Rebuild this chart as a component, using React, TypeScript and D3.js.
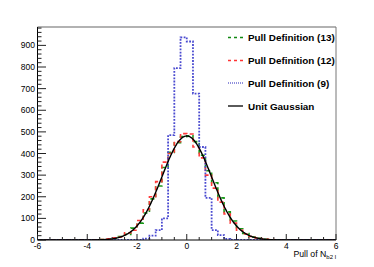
import React from "react";
import * as d3 from "d3";

const xMin = -6;
const xMax = 6;
const yMax = 985;
const binWidth = 0.25;

// Pull Definition (9) – blue dotted, bins starting at -2.0
const blueStart = -2.0;
const blueValues = [1, 6, 20, 46, 100, 485, 795, 937, 918, 677, 430, 195, 46, 23, 5, 1];

// Pull Definition (12) – red dashed, bins starting at -3.75
const redStart = -3.75;
const redValues = [1, 2, 5, 10, 14, 33, 45, 90, 140, 200, 270, 360, 400, 455, 492, 490, 430, 380, 300, 240, 175, 120, 78, 45, 28, 16, 9, 4, 2, 1];

// Pull Definition (13) – green dashed, bins starting at -3.75
const greenStart = -3.75;
const greenValues = [0, 2, 4, 7, 16, 26, 55, 78, 125, 190, 250, 335, 405, 450, 478, 482, 455, 392, 320, 265, 195, 130, 88, 52, 30, 14, 8, 3, 1, 1];

const gaussAmplitude = 481;

const xTicks = [-6, -4, -2, 0, 2, 4, 6];
const yTicks = [0, 100, 200, 300, 400, 500, 600, 700, 800, 900];

const legendLabels = ["Pull Definition (13)", "Pull Definition (12)", "Pull Definition (9)", "Unit Gaussian"];

const W = 374;
const H = 267;
const left = 37.5;
const right = 336;
const top = 27;
const bottom = 240;

export default function App() {
  const x = d3.scaleLinear().domain([xMin, xMax]).range([left, right]);
  const y = d3.scaleLinear().domain([0, yMax]).range([bottom, top]);

  const histPath = (start: number, values: number[]) => {
    const nBins = Math.round((xMax - xMin) / binWidth);
    const full: number[] = new Array(nBins).fill(0);
    const offset = Math.round((start - xMin) / binWidth);
    values.forEach((v, i) => {
      full[offset + i] = v;
    });
    const pts: [number, number][] = [];
    full.forEach((v, i) => {
      const a = xMin + i * binWidth;
      pts.push([a, v]);
      pts.push([a + binWidth, v]);
    });
    return d3
      .line<[number, number]>()
      .x((d) => x(d[0]))
      .y((d) => y(d[1]))(pts) as string;
  };

  const gaussPts = d3.range(xMin, xMax + 0.001, 0.02).map((v) => [v, gaussAmplitude * Math.exp(-v * v / 2)] as [number, number]);
  const gaussPath = d3
    .line<[number, number]>()
    .x((d) => x(d[0]))
    .y((d) => y(d[1]))(gaussPts) as string;

  const yMinor = d3.range(0, yMax, 20);
  const xMinor = d3.range(xMin, xMax + 0.001, 0.5);

  const font = "'Liberation Sans', Arial, Helvetica, sans-serif";

  const legendStyles = [
    { stroke: "#118811", dash: "3 3", w: 1.3 },
    { stroke: "#ff3333", dash: "3 3", w: 1.3 },
    { stroke: "#2222bb", dash: "1 1", w: 1 },
    { stroke: "#000000", dash: "", w: 1.3 },
  ];
  const legendY = [37.5, 60.5, 83, 106];

  return (
    <svg width={W} height={H} style={{ position: "absolute", left: 0, top: 0, background: "#fff" }} fontFamily={font}>
      <defs>
        <clipPath id="frame">
          <rect x={left} y={top} width={right - left} height={bottom - top} />
        </clipPath>
      </defs>
      <rect x={0} y={0} width={W} height={H} fill="#fff" />
      <line x1={left} x2={right} y1={top} y2={top} stroke="#999" strokeWidth={1.5} />
      <line x1={right} x2={right} y1={top} y2={bottom} stroke="#777" strokeWidth={1} />

      <g clipPath="url(#frame)">
        <path d={histPath(greenStart, greenValues)} fill="none" stroke="#1a9a1a" strokeWidth={1.6} strokeDasharray="4 3" />
        <path d={histPath(redStart, redValues)} fill="none" stroke="#ff3b3b" strokeWidth={1.6} strokeDasharray="4 3" />
        <path d={histPath(blueStart, blueValues)} fill="none" stroke="#4a4ad0" strokeWidth={1.8} strokeDasharray="1.8 1.4" />
        <path d={gaussPath} fill="none" stroke="#000" strokeWidth={1.4} />
      </g>

      <line x1={left} x2={left} y1={top} y2={bottom} stroke="#000" strokeWidth={1} />
      {yMinor.map((v) => (
        <line key={"ym" + v} x1={left} x2={left + (v % 100 === 0 ? 8.5 : 4)} y1={y(v)} y2={y(v)} stroke="#222" strokeWidth={1} />
      ))}
      {yTicks.map((v) => (
        <text key={"yt" + v} x={left - 2.5} y={y(v) + 3} fontSize={8.5} textAnchor="end" fill="#000">
          {v}
        </text>
      ))}

      <line x1={left} x2={right} y1={bottom} y2={bottom} stroke="#000" strokeWidth={1} />
      {xMinor.map((v) => (
        <line key={"xm" + v} x1={x(v)} x2={x(v)} y1={bottom} y2={bottom - (Math.abs(v % 2) < 1e-9 ? 6 : 3)} stroke="#222" strokeWidth={1} />
      ))}
      {xTicks.map((v) => (
        <text key={"xt" + v} x={x(v)} y={249} fontSize={8.5} textAnchor="middle" fill="#000">
          {v}
        </text>
      ))}
      <text x={right} y={257} fontSize={8.7} textAnchor="end" fill="#000">
        Pull of N<tspan fontSize={6} dy={2}>b2 l</tspan>
      </text>

      {legendLabels.map((lab, i) => (
        <g key={lab}>
          <line x1={228} x2={243} y1={legendY[i]} y2={legendY[i]} stroke={legendStyles[i].stroke} strokeWidth={legendStyles[i].w} strokeDasharray={legendStyles[i].dash} />
          <text x={248} y={legendY[i] + 3.5} fontSize={9.9} fontWeight="bold" fill="#000">
            {lab}
          </text>
        </g>
      ))}
    </svg>
  );
}
